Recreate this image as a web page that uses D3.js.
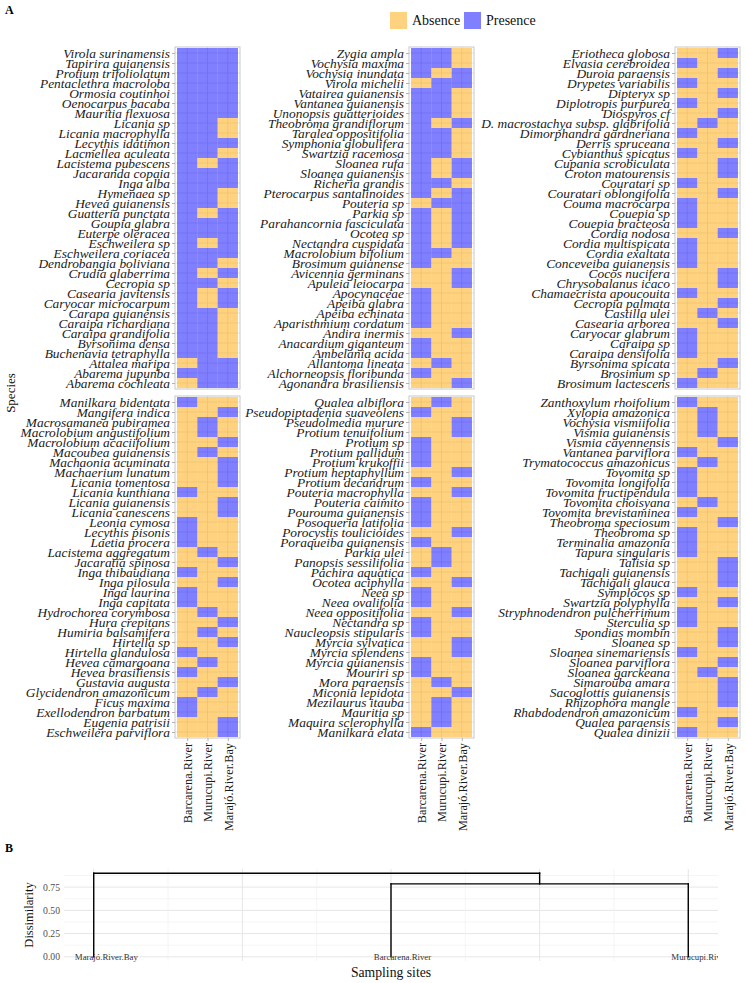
<!DOCTYPE html>
<html><head><meta charset="utf-8">
<script src="https://cdn.jsdelivr.net/npm/d3@7"></script>
<style>body{margin:0;background:#fff;} svg{display:block;}</style>
</head><body>
<svg id="chart" width="746" height="983"></svg>
<script>
const sites = ["Barcarena.River", "Murucupi.River", "Marajó.River.Bay"];
const legendLabels = ["Absence", "Presence"];

const p1TopSpecies = ["Virola surinamensis","Tapirira guianensis","Protium trifoliolatum","Pentaclethra macroloba","Ormosia coutinhoi","Oenocarpus bacaba","Mauritia flexuosa","Licania sp","Licania macrophylla","Lecythis idatimon","Lacmellea aculeata","Lacistema pubescens","Jacaranda copaia","Inga alba","Hymenaea sp","Hevea guianensis","Guatteria punctata","Goupia glabra","Euterpe oleracea","Eschweilera sp","Eschweilera coriacea","Dendrobangia boliviana","Crudia glaberrima","Cecropia sp","Casearia javitensis","Caryocar microcarpum","Carapa guianensis","Caraipa richardiana","Caraipa grandifolia","Byrsonima densa","Buchenavia tetraphylla","Attalea maripa","Abarema jupunba","Abarema cochleata"];
const p1TopPresence = ["111","111","111","111","111","111","111","110","110","111","110","101","111","111","110","110","101","111","111","101","111","110","101","110","101","101","110","110","110","110","110","011","111","011"];

const p1BottomSpecies = ["Manilkara bidentata","Mangifera indica","Macrosamanea pubiramea","Macrolobium angustifolium","Macrolobium acaciifolium","Macoubea guianensis","Machaonia acuminata","Machaerium lunatum","Licania tomentosa","Licania kunthiana","Licania guianensis","Licania canescens","Leonia cymosa","Lecythis pisonis","Laetia procera","Lacistema aggregatum","Jacaratia spinosa","Inga thibaudiana","Inga pilosula","Inga laurina","Inga capitata","Hydrochorea corymbosa","Hura crepitans","Humiria balsamifera","Hirtella sp","Hirtella glandulosa","Hevea camargoana","Hevea brasiliensis","Gustavia augusta","Glycidendron amazonicum","Ficus maxima","Exellodendron barbatum","Eugenia patrisii","Eschweilera parviflora"];
const p1BottomPresence = ["100","001","010","010","001","010","001","001","001","100","001","001","100","100","100","010","001","100","001","100","100","010","001","010","001","100","010","100","001","010","100","100","001","001"];

const p2TopSpecies = ["Zygia ampla","Vochysia maxima","Vochysia inundata","Virola michelii","Vatairea guianensis","Vantanea guianensis","Unonopsis guatterioides","Theobroma grandiflorum","Taralea oppositifolia","Symphonia globulifera","Swartzia racemosa","Sloanea rufa","Sloanea guianensis","Richeria grandis","Pterocarpus santalinoides","Pouteria sp","Parkia sp","Parahancornia fasciculata","Ocotea sp","Nectandra cuspidata","Macrolobium bifolium","Brosimum guianense","Avicennia germinans","Apuleia leiocarpa","Apocynaceae","Apeiba glabra","Apeiba echinata","Aparisthmium cordatum","Andira inermis","Anacardium giganteum","Ambelania acida","Allantoma lineata","Alchorneopsis floribunda","Agonandra brasiliensis"];
const p2TopPresence = ["110","110","101","011","110","110","110","101","110","110","110","101","101","110","101","011","101","101","101","101","110","100","001","001","100","100","100","100","001","100","100","010","100","001"];

const p2BottomSpecies = ["Qualea albiflora","Pseudopiptadenia suaveolens","Pseudolmedia murure","Protium tenuifolium","Protium sp","Protium pallidum","Protium krukoffii","Protium heptaphyllum","Protium decandrum","Pouteria macrophylla","Pouteria caimito","Pourouma guianensis","Posoqueria latifolia","Porocystis toulicioides","Poraqueiba guianensis","Parkia ulei","Panopsis sessilifolia","Pachira aquatica","Ocotea aciphylla","Neea sp","Neea ovalifolia","Neea oppositifolia","Nectandra sp","Naucleopsis stipularis","Myrcia sylvatica","Myrcia splendens","Myrcia guianensis","Mouriri sp","Mora paraensis","Miconia lepidota","Mezilaurus itauba","Mauritia sp","Maquira sclerophylla","Manilkara elata"];
const p2BottomPresence = ["010","100","001","001","100","100","100","001","100","001","100","100","100","001","100","010","010","100","001","100","100","001","100","100","001","001","100","100","010","001","010","010","010","100"];

const p3TopSpecies = ["Eriotheca globosa","Elvasia cerebroidea","Duroia paraensis","Drypetes variabilis","Dipteryx sp","Diplotropis purpurea","Diospyros cf","D. macrostachya subsp. glabrifolia","Dimorphandra gardneriana","Derris spruceana","Cybianthus spicatus","Cupania scrobiculata","Croton matourensis","Couratari sp","Couratari oblongifolia","Couma macrocarpa","Couepia sp","Couepia bracteosa","Cordia nodosa","Cordia multispicata","Cordia exaltata","Conceveiba guianensis","Cocos nucifera","Chrysobalanus icaco","Chamaecrista apoucouita","Cecropia palmata","Castilla ulei","Casearia arborea","Caryocar glabrum","Caraipa sp","Caraipa densifolia","Byrsonima spicata","Brosimum sp","Brosimum lactescens"];
const p3TopPresence = ["001","100","001","100","001","100","001","010","100","001","100","001","001","100","001","100","100","100","001","100","100","100","001","001","100","001","010","001","100","100","100","001","010","100"];

const p3BottomSpecies = ["Zanthoxylum rhoifolium","Xylopia amazonica","Vochysia vismiifolia","Vismia guianensis","Vismia cayennensis","Vantanea parviflora","Trymatococcus amazonicus","Tovomita sp","Tovomita longifolia","Tovomita fructipendula","Tovomita choisyana","Tovomita brevistaminea","Theobroma speciosum","Theobroma sp","Terminalia amazonia","Tapura singularis","Talisia sp","Tachigali guianensis","Tachigali glauca","Symplocos sp","Swartzia polyphylla","Stryphnodendron pulcherrimum","Sterculia sp","Spondias mombin","Sloanea sp","Sloanea sinemariensis","Sloanea parviflora","Sloanea garckeana","Simarouba amara","Sacoglottis guianensis","Rhizophora mangle","Rhabdodendron amazonicum","Qualea paraensis","Qualea dinizii"];
const p3BottomPresence = ["100","010","010","010","001","100","010","100","100","100","010","100","001","100","100","100","001","001","001","100","001","100","100","001","001","100","001","010","001","001","001","100","001","100"];

// dendrogram
const dendroLeaves = ["Marajó.River.Bay", "Barcarena.River", "Murucupi.River"];
const dendroHeights = [0.785, 0.90]; // merge heights: (Barcarena, Murucupi), then (+Marajó)
const dendroTicks = [0, 0.25, 0.5, 0.75];

const svg = d3.select("#chart");
const FONT = "'Liberation Serif', 'Times New Roman', serif";
const fillColor = {0: "#FFA500", 1: "#0000FF"};

// Panel A labels
svg.append("text").attr("x", 5).attr("y", 14).attr("font-family", FONT)
  .attr("font-weight", "bold").attr("font-size", 12).text("A");

// legend
const leg = svg.append("g");
[0, 1].forEach((v, i) => {
  const x0 = [390, 464][i];
  leg.append("rect").attr("x", x0).attr("y", 12).attr("width", 17).attr("height", 17)
    .attr("fill", fillColor[v]).attr("fill-opacity", 0.5);
  leg.append("text").attr("x", x0 + 22).attr("y", 20.5).attr("dy", "0.35em")
    .attr("font-family", FONT).attr("font-size", 14).attr("fill", "#111").text(legendLabels[v]);
});

svg.append("text").attr("transform", "translate(15,393) rotate(-90)")
  .attr("text-anchor", "middle").attr("font-family", FONT).attr("font-size", 13)
  .attr("fill", "#111").text("Species");

const cols = [[175, 240], [409, 474], [675, 740]];
const rowsY = [[47, 389], [396, 738]];
const panels = [
  [p1TopSpecies, p1TopPresence, 0, 0], [p1BottomSpecies, p1BottomPresence, 0, 1],
  [p2TopSpecies, p2TopPresence, 1, 0], [p2BottomSpecies, p2BottomPresence, 1, 1],
  [p3TopSpecies, p3TopPresence, 2, 0], [p3BottomSpecies, p3BottomPresence, 2, 1]
];

panels.forEach(([species, pres, c, r]) => {
  const x = d3.scalePoint().domain(sites).range(cols[c]).padding(0.6);
  const y = d3.scalePoint().domain(species).range(rowsY[r]).padding(0.6);
  const w = x.step(), h = y.step();
  const g = svg.append("g");
  // grid
  g.selectAll(".gx").data(sites).join("line")
    .attr("x1", d => x(d)).attr("x2", d => x(d)).attr("y1", rowsY[r][0]).attr("y2", rowsY[r][1])
    .attr("stroke", "#DEDEDE").attr("stroke-width", 0.8);
  g.selectAll(".gy").data(species).join("line")
    .attr("y1", d => y(d)).attr("y2", d => y(d)).attr("x1", cols[c][0]).attr("x2", cols[c][1])
    .attr("stroke", "#DEDEDE").attr("stroke-width", 0.8);
  // tiles
  const cells = [];
  species.forEach((s, i) => sites.forEach((site, j) => cells.push({s, site, v: +pres[i][j]})));
  g.selectAll("rect.tile").data(cells).join("rect").attr("class", "tile")
    .attr("x", d => x(d.site) - w / 2).attr("y", d => y(d.s) - h / 2)
    .attr("width", w).attr("height", h)
    .attr("fill", d => fillColor[d.v]).attr("fill-opacity", 0.5);
  // border
  g.append("rect").attr("x", cols[c][0]).attr("y", rowsY[r][0])
    .attr("width", cols[c][1] - cols[c][0]).attr("height", rowsY[r][1] - rowsY[r][0])
    .attr("fill", "none").attr("stroke", "#C8C8C8").attr("stroke-width", 1);
  // y axis
  const ya = g.append("g").attr("transform", `translate(${cols[c][0]},0)`)
    .call(d3.axisLeft(y).tickSize(3).tickPadding(2));
  ya.select(".domain").remove();
  ya.selectAll(".tick line").attr("stroke", "#B3B3B3");
  ya.selectAll(".tick text").attr("font-family", FONT).attr("font-style", "italic")
    .attr("font-size", 13.4).attr("fill", "#1a1a1a");
  if (r === 1) {
    const xa = g.append("g").attr("transform", `translate(0,${rowsY[r][1]})`)
      .call(d3.axisBottom(x).tickSize(3).tickPadding(3));
    xa.select(".domain").remove();
    xa.selectAll(".tick line").attr("stroke", "#B3B3B3");
    xa.selectAll(".tick text").attr("font-family", FONT).attr("font-size", 12.3)
      .attr("fill", "#1a1a1a").attr("transform", "rotate(-90)")
      .attr("text-anchor", "end").attr("x", -5).attr("y", 0).attr("dy", "0.35em");
  }
});

// Panel B: dendrogram
svg.append("text").attr("x", 5).attr("y", 852).attr("font-family", FONT)
  .attr("font-weight", "bold").attr("font-size", 12).text("B");

const dx = d3.scaleLinear().domain([0.9, 3.1]).range([64, 718]);
const dy = d3.scaleLinear().domain([-0.045, 0.945]).range([961, 869]);
const dg = svg.append("g");
dg.append("defs").append("clipPath").attr("id", "dclip").append("rect")
  .attr("x", 64).attr("y", 860).attr("width", 654).attr("height", 110);
// grid
d3.range(0, 0.9, 0.125).forEach((v, i) => {
  dg.append("line").attr("x1", 64).attr("x2", 718).attr("y1", dy(v)).attr("y2", dy(v))
    .attr("stroke", i % 2 === 0 ? "#E6E6E6" : "#F0F0F0").attr("stroke-width", i % 2 === 0 ? 1 : 0.7);
});
d3.range(1, 3.01, 0.25).forEach((v, i) => {
  dg.append("line").attr("y1", 869).attr("y2", 961).attr("x1", dx(v)).attr("x2", dx(v))
    .attr("stroke", i % 2 === 0 ? "#E6E6E6" : "#F0F0F0").attr("stroke-width", i % 2 === 0 ? 1 : 0.7);
});
// y ticks
dg.selectAll("text.yt").data(dendroTicks).join("text")
  .attr("x", 60).attr("y", d => dy(d)).attr("dy", "0.35em").attr("text-anchor", "end")
  .attr("font-family", FONT).attr("font-size", 9.7).attr("fill", "#4D4D4D")
  .text(d => d3.format(".2f")(d));
// segments
const xm = (dx(2) + dx(3)) / 2;
const h1 = dendroHeights[0], h2 = dendroHeights[1];
const segs = [
  [2, 0, 2, h1], [3, 0, 3, h1], [2, h1, 3, h1],
  [1, 0, 1, h2], [2.5, h1, 2.5, h2], [1, h2, 2.5, h2]
];
dg.selectAll("line.seg").data(segs).join("line")
  .attr("x1", d => dx(d[0])).attr("y1", d => dy(d[1]))
  .attr("x2", d => dx(d[2])).attr("y2", d => dy(d[3]))
  .attr("stroke", "#000").attr("stroke-width", 1.4).attr("stroke-linecap", "square");
// leaf labels
const lbl = dg.append("g").attr("clip-path", "url(#dclip)");
dendroLeaves.forEach((name, i) => {
  const t = lbl.append("text").attr("y", dy(0)).attr("dy", "0.35em")
    .attr("font-family", FONT).attr("font-size", 8.8).attr("fill", "#333").text(name);
  const len = t.node().getComputedTextLength();
  t.attr("x", dx(i + 1) - 0.3 * len);
});
svg.append("text").attr("transform", "translate(33,915) rotate(-90)")
  .attr("text-anchor", "middle").attr("font-family", FONT).attr("font-size", 12.5)
  .attr("fill", "#111").text("Dissimilarity");
svg.append("text").attr("x", 391).attr("y", 972).attr("dy", "0.35em")
  .attr("text-anchor", "middle").attr("font-family", FONT).attr("font-size", 13.7)
  .attr("fill", "#111").text("Sampling sites");
</script>
</body></html>
